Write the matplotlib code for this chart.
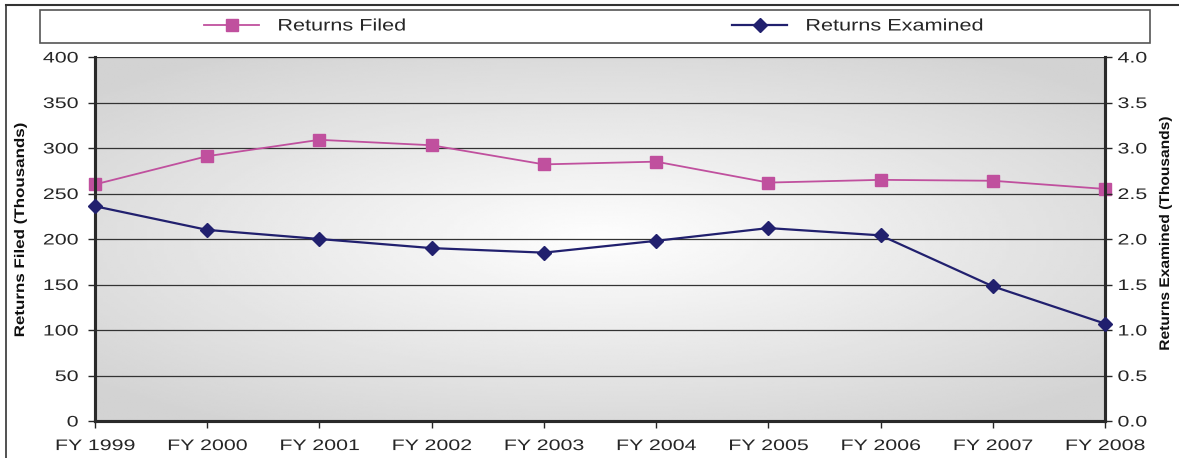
import numpy as np
import matplotlib.pyplot as plt
from matplotlib.lines import Line2D
from matplotlib.patches import Rectangle
from matplotlib.patheffects import AbstractPathEffect
from matplotlib.transforms import Affine2D

plt.rcParams['font.family'] = ['Liberation Sans', 'DejaVu Sans']

years = ['FY 1999', 'FY 2000', 'FY 2001', 'FY 2002', 'FY 2003',
         'FY 2004', 'FY 2005', 'FY 2006', 'FY 2007', 'FY 2008']
filed = [260, 291, 309, 303, 282, 285, 262, 265, 264, 255]
examined = [2.36, 2.10, 2.00, 1.90, 1.85, 1.98, 2.12, 2.04, 1.48, 1.07]

filed_color = '#C0509E'
exam_color = '#21206E'
txt_color = '#262626'
W, H = 1179, 458


class Widen(AbstractPathEffect):
    # the source chart has horizontally stretched lettering
    def __init__(self, sx=1.4, anchor=0.5):
        super().__init__()
        self.sx = sx
        self.anchor = anchor

    def draw_path(self, renderer, gc, tpath, affine, rgbFace=None):
        v = tpath.vertices
        cx = 0
        if len(v):
            x0, x1 = v[:, 0].min(), v[:, 0].max()
            cx = x0 + self.anchor * (x1 - x0)
        st = Affine2D().translate(-cx, 0).scale(self.sx, 1).translate(cx, 0)
        renderer.draw_path(gc, tpath, st + affine, rgbFace)


fig = plt.figure(figsize=(W / 100, H / 100), dpi=100)
ax = fig.add_axes([95 / W, 1 - 421 / H, 1010 / W, 364 / H])
ax2 = ax.twinx()

# radial grey background of the plot area
gx, gy = np.meshgrid(np.linspace(-1, 1, 300), np.linspace(-1, 1, 200))
r = np.sqrt((gx * 0.95) ** 2 + (gy * 1.05) ** 2)
bg = 0.995 - 0.17 * np.clip(r, 0, 1.3) / 1.3
ax.imshow(bg, cmap='gray', vmin=0, vmax=1, extent=[0, 9, 0, 400],
          aspect='auto', zorder=0, interpolation='bilinear')

x = np.arange(len(years))
ax.set_xlim(0, 9)
ax.set_ylim(0, 400)
ax2.set_ylim(0, 4)
ax.set_yticks(np.arange(0, 401, 50))
ax2.set_yticks(np.arange(0, 4.01, 0.5))
ax2.set_yticklabels(['%.1f' % v for v in np.arange(0, 4.01, 0.5)])
ax.set_xticks(x)
ax.set_xticklabels(years)

for v in np.arange(50, 401, 50):
    ax.axhline(v, color='#333333', lw=0.9, zorder=1)

ax.plot(x, filed, color=filed_color, lw=1.3, marker='s', markersize=9,
        zorder=5, clip_on=False)
ax2.plot(x, examined, color=exam_color, lw=1.6, marker='D', markersize=7,
         zorder=5, clip_on=False)

for a in (ax, ax2):
    a.tick_params(labelsize=11, colors=txt_color, length=5, width=1)
    a.spines['top'].set_visible(False)
    for s in ('left', 'right', 'bottom'):
        a.spines[s].set_linewidth(2.2)
        a.spines[s].set_color('#2a2a2a')
ax.tick_params(axis='x', length=5, pad=8)
ax.tick_params(axis='y', pad=7)
ax2.tick_params(axis='y', pad=4)

ax.set_ylabel('Returns Filed (Thousands)', fontsize=10, fontweight='bold',
              color='#111111')
ax2.set_ylabel('Returns Examined (Thousands)', fontsize=10,
               fontweight='bold', color='#111111')
ax.yaxis.set_label_coords(-68 / 1010, 0.525)
ax2.yaxis.set_label_coords(1 + 53 / 1010, 0.515)

for lbl in ax.get_xticklabels():
    lbl.set_path_effects([Widen(1.4, 0.5)])
for lbl in ax.get_yticklabels():
    lbl.set_path_effects([Widen(1.4, 1.0)])
for lbl in ax2.get_yticklabels():
    lbl.set_path_effects([Widen(1.4, 0.0)])
ax.yaxis.label.set_path_effects([Widen(1.22, 0.5)])
ax2.yaxis.label.set_path_effects([Widen(1.12, 0.5)])

# legend box across the top
fig.add_artist(Rectangle((40 / W, 1 - 43 / H), 1110 / W, 33 / H,
                         transform=fig.transFigure, facecolor='white',
                         edgecolor='#555555', lw=1.2))
h1 = Line2D([], [], color=filed_color, lw=1.3, marker='s', markersize=9)
h2 = Line2D([], [], color=exam_color, lw=1.6, marker='D', markersize=7)
leg_kw = dict(loc='center left', frameon=False, fontsize=12,
              handlelength=3.3, handletextpad=1.1, borderpad=0,
              borderaxespad=0, labelcolor=txt_color)
l1 = fig.legend([h1], ['Returns Filed'],
                bbox_to_anchor=(204 / W, 1 - 26 / H), **leg_kw)
l2 = fig.legend([h2], ['Returns Examined'],
                bbox_to_anchor=(732 / W, 1 - 26 / H), **leg_kw)
for leg in (l1, l2):
    for t in leg.get_texts():
        t.set_path_effects([Widen(1.3, 0.0)])

# outer frame (top and left edges)
fig.add_artist(Line2D([6 / W, 1], [1 - 5 / H, 1 - 5 / H],
                      transform=fig.transFigure, color='#333333', lw=1.5))
fig.add_artist(Line2D([6 / W, 6 / W], [0, 1 - 5 / H],
                      transform=fig.transFigure, color='#333333', lw=1.2))

fig.savefig('out.png', dpi=100)
